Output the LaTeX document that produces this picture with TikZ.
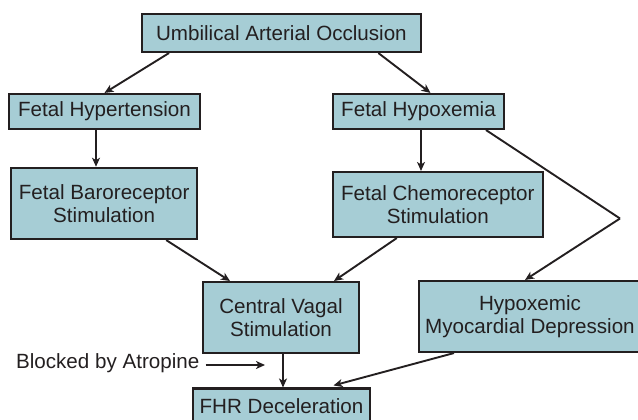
\documentclass[tikz,border=0pt]{standalone}
\usepackage{fontspec}
\setmainfont{Liberation Sans}
\usetikzlibrary{arrows.meta}
\definecolor{boxfill}{HTML}{A6CDD5}
\definecolor{ink}{HTML}{231F20}
\begin{document}
\begin{tikzpicture}[x=1pt,y=1pt,
  box/.style={draw=ink,fill=boxfill,line width=2.1pt,inner sep=0pt,align=center,
    text=ink,font=\fontsize{20.6}{23.5}\selectfont},
  conn/.style={draw=ink,line width=1.9pt,-{Stealth[length=9pt,width=8pt,inset=2.5pt]}},
  plain/.style={draw=ink,line width=1.9pt}]
\useasboundingbox (0,0) rectangle (638,-420);
\begin{scope}
\clip (0,0) rectangle (638,-420);
\node[box,minimum width=279.6pt,minimum height=38pt] (top) at (281.4,-33) {Umbilical Arterial Occlusion};
\node[box,minimum width=191pt,minimum height=35pt] (fh) at (104.5,-111.5) {Fetal Hypertension};
\node[box,minimum width=171pt,minimum height=35pt] (fhx) at (418.5,-111.5) {Fetal Hypoxemia};
\node[box,minimum width=185.6pt,minimum height=71.3pt] (baro) at (104.2,-203.4) {Fetal Baroreceptor\\Stimulation};
\node[box,minimum width=209.5pt,minimum height=65pt] (chemo) at (437.8,-204.5) {Fetal Chemoreceptor\\Stimulation};
\node[box,minimum width=156.7pt,minimum height=70.7pt] (vagal) at (281,-317.4) {Central Vagal\\Stimulation};
\node[box,minimum width=222pt,minimum height=71pt] (hypox) at (530,-316.5) {Hypoxemic\\Myocardial Depression};
\node[box,minimum width=177pt,minimum height=36pt] (fhr) at (281.5,-406.5) {FHR Deceleration};
\end{scope}
\node[anchor=east,inner sep=0pt,text=ink,font=\fontsize{20.6}{23.5}\selectfont] (atr) at (199.5,-363) {Blocked by Atropine};
\coordinate (atrend) at (265,-365);
\coordinate (bend) at (620,-218.5);

\draw[conn] ([xshift=-112.4pt]top.south) -- (fh.north);
\draw[conn] ([xshift=97pt]top.south) -- ([xshift=12pt]fhx.north);
\draw[conn] ([xshift=-8.5pt]fh.south) -- ([xshift=-8.2pt]baro.north);
\draw[conn] ([xshift=2.5pt]fhx.south) -- ([xshift=-16.8pt]chemo.north);
\draw[plain] ([xshift=67.5pt]fhx.south) -- (bend);
\draw[conn] (bend) -- ([xshift=-5pt]hypox.north);
\draw[conn] ([xshift=62pt]baro.south) -- ([xshift=-51pt]vagal.north);
\draw[conn] ([xshift=-41pt]chemo.south) -- ([xshift=53pt]vagal.north);
\draw[conn] ([xshift=2pt]vagal.south) -- ([xshift=1.5pt]fhr.north);
\draw[conn] ([xshift=-76pt]hypox.south) -- ([xshift=52pt,yshift=2pt]fhr.north);
\draw[conn] ([xshift=6pt,yshift=-2pt]atr.east) -- (atrend);
\end{tikzpicture}
\end{document}
